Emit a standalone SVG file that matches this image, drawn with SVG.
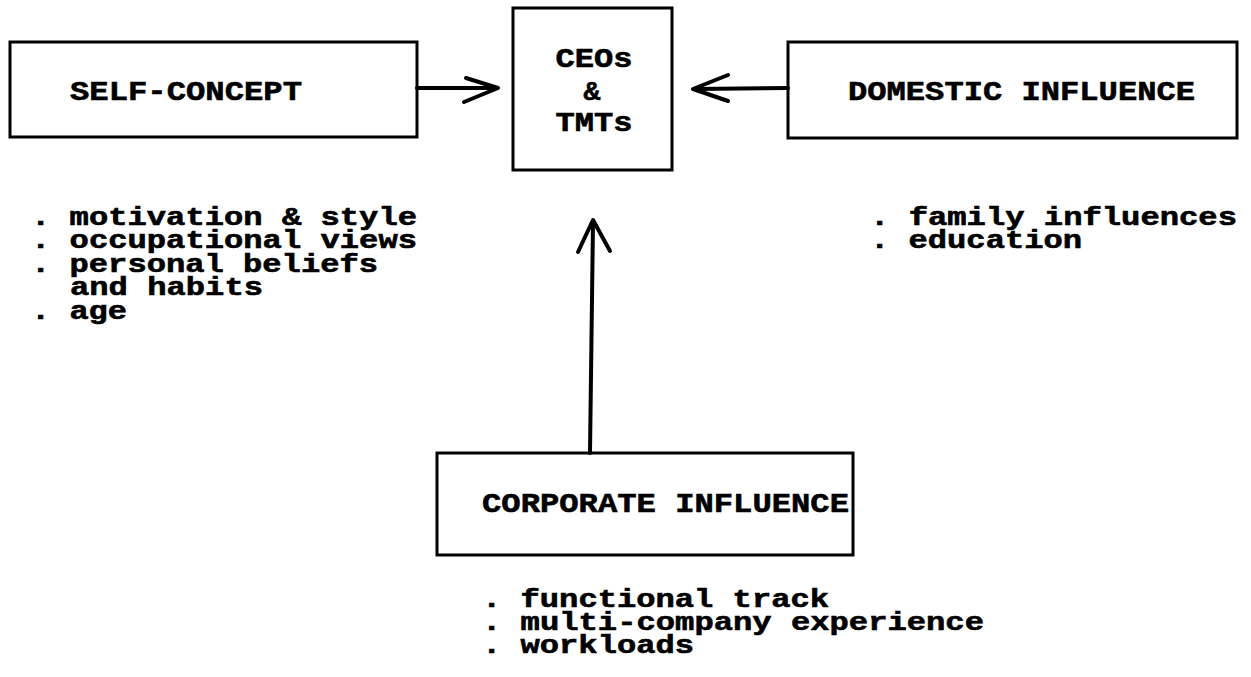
<svg xmlns="http://www.w3.org/2000/svg" width="1251" height="677" viewBox="0 0 1251 677">
<style>
.box{fill:#fff;stroke:#000;stroke-width:3}
.t{font-family:"Liberation Mono","Courier New",monospace;font-weight:bold;fill:#000;stroke:#000;stroke-width:0.6}
.h{font-size:28px}
.l{font-size:25px}
.c{text-anchor:middle}
.conn line,.conn polyline{stroke:#000;stroke-width:4;fill:none;stroke-linecap:round;stroke-linejoin:round}
</style>
<rect width="1251" height="677" fill="#fff"/>
<g id="self-concept">
<rect class="box" x="10" y="42" width="407" height="95"/>
<text class="t h" x="70" y="100" textLength="232" lengthAdjust="spacingAndGlyphs">SELF-CONCEPT</text>
<text class="t l" x="31" y="225" textLength="386" lengthAdjust="spacingAndGlyphs">. motivation &amp; style</text>
<text class="t l" x="31" y="248" textLength="386" lengthAdjust="spacingAndGlyphs">. occupational views</text>
<text class="t l" x="31" y="272" textLength="347" lengthAdjust="spacingAndGlyphs">. personal beliefs</text>
<text class="t l" x="70" y="295" textLength="193" lengthAdjust="spacingAndGlyphs">and habits</text>
<text class="t l" x="31" y="319" textLength="96" lengthAdjust="spacingAndGlyphs">. age</text>
</g>
<g id="ceos">
<rect class="box" x="513" y="8" width="159" height="162"/>
<text class="t h c" x="594" y="67" textLength="77" lengthAdjust="spacingAndGlyphs">CEOs</text>
<text class="t h c" x="592" y="100">&amp;</text>
<text class="t h c" x="594" y="131" textLength="77" lengthAdjust="spacingAndGlyphs">TMTs</text>
</g>
<g id="domestic">
<rect class="box" x="788" y="42" width="449" height="96"/>
<text class="t h" x="848" y="100" textLength="347" lengthAdjust="spacingAndGlyphs">DOMESTIC INFLUENCE</text>
<text class="t l" x="870" y="225" textLength="367" lengthAdjust="spacingAndGlyphs">. family influences</text>
<text class="t l" x="870" y="248" textLength="212" lengthAdjust="spacingAndGlyphs">. education</text>
</g>
<g id="corporate">
<rect class="box" x="437" y="453" width="416" height="102"/>
<text class="t h" x="482" y="512" textLength="367" lengthAdjust="spacingAndGlyphs">CORPORATE INFLUENCE</text>
<text class="t l" x="482" y="607" textLength="347" lengthAdjust="spacingAndGlyphs">. functional track</text>
<text class="t l" x="482" y="630" textLength="502" lengthAdjust="spacingAndGlyphs">. multi-company experience</text>
<text class="t l" x="482" y="653" textLength="212" lengthAdjust="spacingAndGlyphs">. workloads</text>
</g>
<g id="connectors" class="conn">
<line x1="417" y1="88" x2="497" y2="88"/>
<polyline points="466,78 498,88 464,102"/>
<line x1="788" y1="88" x2="695" y2="89"/>
<polyline points="728,75 693,89 728,101"/>
<line x1="590" y1="453" x2="593" y2="222"/>
<polyline points="578,252 593,220 610,251"/>
</g>
</svg>
